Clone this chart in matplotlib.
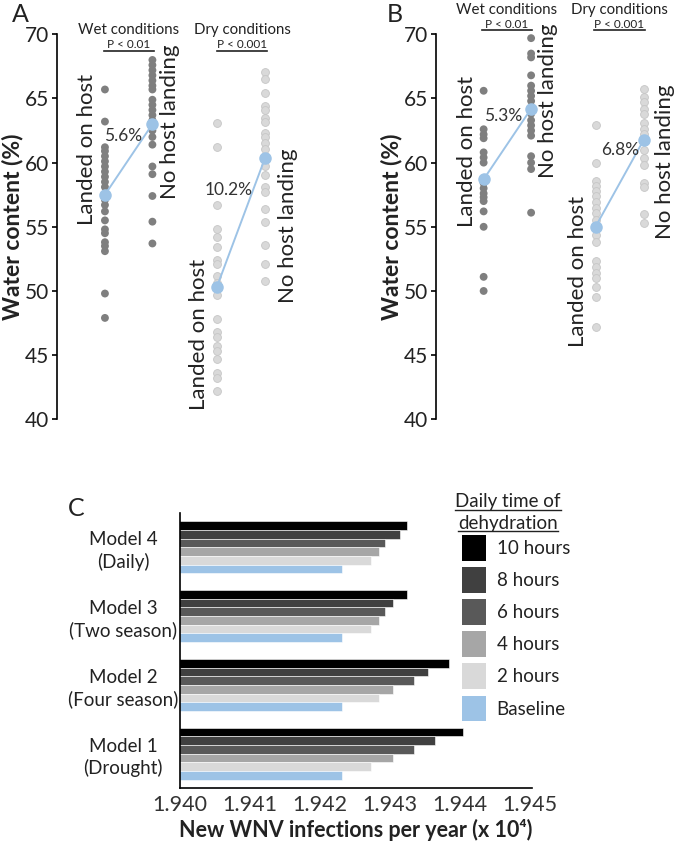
import matplotlib
matplotlib.use('Agg')
import matplotlib.pyplot as plt
from matplotlib.patches import Patch
from matplotlib.lines import Line2D

plt.rcParams['font.family'] = ['Lato', 'DejaVu Sans']

# ---- data: water content (%) panels A and B ----
conditions = ['Wet conditions', 'Dry conditions']
groups = ['Landed on host', 'No host landing']

wet_landed_A = [65.7, 63.2, 61.2, 60.9, 60.5, 60.1, 59.7, 59.3, 58.9, 58.5, 58.1, 57.1,
                56.7, 56.2, 55.5, 54.8, 54.5, 53.8, 53.5, 53.1, 49.8, 47.9]
wet_nohost_A = [68.0, 67.6, 67.2, 66.8, 66.4, 66.0, 65.7, 64.9, 64.5, 64.1, 63.7, 63.3,
                62.5, 62.0, 61.4, 59.7, 59.1, 57.4, 55.4, 53.7]
dry_landed_A = [63.1, 61.2, 56.7, 54.8, 54.2, 53.4, 52.4, 52.1, 51.2, 50.6, 49.7, 47.8,
                46.8, 46.4, 45.7, 45.3, 44.7, 43.6, 43.2, 42.2]
dry_nohost_A = [67.1, 66.5, 65.4, 64.4, 64.1, 63.5, 63.2, 62.3, 62.0, 61.5, 61.1, 59.7,
                59.0, 58.1, 57.7, 56.4, 55.4, 53.6, 52.1, 50.8]
means_A = [57.5, 63.0, 50.3, 60.4]
pvals_A = ['P < 0.01', 'P < 0.001']
pct_A = ['5.6%', '10.2%']

wet_landed_B = [65.6, 62.6, 62.2, 61.9, 60.8, 60.4, 60.0, 58.4, 58.0, 57.6, 57.3, 57.0,
                56.2, 55.0, 51.1, 50.0]
wet_nohost_B = [69.7, 68.5, 68.2, 66.8, 66.0, 65.6, 65.2, 64.8, 63.8, 63.3, 62.9, 62.5,
                62.1, 60.5, 60.0, 59.5, 56.1]
dry_landed_B = [62.9, 60.0, 58.6, 58.2, 57.8, 57.4, 56.9, 56.5, 56.1, 55.5, 54.4, 53.8,
                52.3, 51.9, 51.4, 51.0, 50.3, 49.5, 47.2]
dry_nohost_B = [65.7, 65.1, 64.7, 64.2, 63.8, 63.1, 62.6, 62.2, 61.0, 60.4, 59.8, 58.4,
                58.1, 56.0, 55.3]
means_B = [58.7, 64.2, 55.0, 61.8]
pvals_B = ['P < 0.01', 'P < 0.001']
pct_B = ['5.3%', '6.8%']

# ---- data: panel C, new WNV infections per year (x 10^4) ----
models = ['Model 1\n(Drought)', 'Model 2\n(Four season)', 'Model 3\n(Two season)', 'Model 4\n(Daily)']
series = ['10 hours', '8 hours', '6 hours', '4 hours', '2 hours', 'Baseline']
hrs10 = [1.94404, 1.94385, 1.94324, 1.94324]
hrs8 = [1.94364, 1.94354, 1.94304, 1.94314]
hrs6 = [1.94334, 1.94334, 1.94293, 1.94293]
hrs4 = [1.94304, 1.94304, 1.94284, 1.94284]
hrs2 = [1.94273, 1.94284, 1.94273, 1.94273]
baseline = [1.94232, 1.94232, 1.94232, 1.94232]
xticks_C = [1.940, 1.941, 1.942, 1.943, 1.944, 1.945]

W, H = 675, 843
fig = plt.figure(figsize=(W / 100, H / 100), dpi=100)


def fx(px):
    return px / W


def fy(py):
    return 1 - py / H


WET = '#7f7f7f'
DRY = '#d9d9d9'
DRY_EDGE = '#c6c6c6'
BLUE = '#9dc3e6'
TXT = '#222222'
xpos = [1.02, 2.03, 3.40, 4.43]


def strip_panel(left_px, cols, means, pvals, pcts, label_x, label_y, pct_xy,
                title_y, ptxt_y, pline_y, pline_x, letter, letter_px, ylab_x):
    ax = fig.add_axes([fx(left_px), fy(419.3), 235 / W, (419.3 - 34.3) / H])
    ax.set_xlim(0, 5.0)
    ax.set_ylim(40, 70)
    for i, vals in enumerate(cols):
        dry = i >= 2
        ax.scatter([xpos[i]] * len(vals), vals, s=32,
                   color=DRY if dry else WET,
                   edgecolors=DRY_EDGE if dry else 'none', linewidths=0.6,
                   zorder=2, clip_on=False)
    for k in range(2):
        ax.plot([xpos[2 * k], xpos[2 * k + 1]], [means[2 * k], means[2 * k + 1]],
                color=BLUE, lw=1.4, zorder=3, marker='o', ms=8,
                mec=BLUE, mfc=BLUE, clip_on=False)
        ax.text(pct_xy[k][0], pct_xy[k][1], pcts[k], fontsize=12.5, color='#333333',
                ha='center', va='center')
        cx = (pline_x[k][0] + pline_x[k][1]) / 2
        ax.text(cx, title_y, conditions[k], fontsize=10.8, color=TXT,
                ha='center', va='center', clip_on=False)
        ax.text(cx, ptxt_y, pvals[k], fontsize=8.5, color=TXT,
                ha='center', va='center', clip_on=False)
        ax.plot(pline_x[k], [pline_y, pline_y], color=TXT, lw=1.2, clip_on=False)
    for i in range(4):
        ax.text(label_x[i], label_y[i], groups[i % 2], rotation=90, fontsize=16,
                color=TXT, ha='center', va='center', clip_on=False)
    for s in ['top', 'right', 'bottom']:
        ax.spines[s].set_visible(False)
    ax.spines['left'].set_linewidth(1.2)
    ax.set_xticks([])
    ax.set_yticks([40, 45, 50, 55, 60, 65, 70])
    ax.tick_params(axis='y', length=3.5, width=1.2, labelsize=15, pad=2,
                   labelcolor=TXT)
    ax.set_ylabel('Water content (%)', fontsize=16.5, fontweight='bold', color=TXT)
    ax.yaxis.set_label_coords(ylab_x, 0.5)
    fig.text(fx(letter_px[0]), fy(letter_px[1]), letter, fontsize=18, color=TXT,
             ha='center', va='center')
    return ax


strip_panel(57, [wet_landed_A, wet_nohost_A, dry_landed_A, dry_nohost_A], means_A,
            pvals_A, pct_A,
            label_x=[0.64, 2.40, 3.02, 4.91], label_y=[61.0, 63.2, 46.6, 55.1],
            pct_xy=[(1.40, 62.1), (3.66, 57.9)],
            title_y=70.33, ptxt_y=69.24, pline_y=68.7,
            pline_x=[(1.0, 2.06), (3.40, 4.47)], letter='A', letter_px=(20, 14),
            ylab_x=-0.145)

strip_panel(435.7, [wet_landed_B, wet_nohost_B, dry_landed_B, dry_nohost_B], means_B,
            pvals_B, pct_B,
            label_x=[0.67, 2.39, 3.03, 4.88], label_y=[60.9, 64.85, 51.55, 60.1],
            pct_xy=[(1.43, 63.6), (3.92, 61.0)],
            title_y=71.9, ptxt_y=70.78, pline_y=70.34,
            pline_x=[(0.98, 2.05), (3.37, 4.45)], letter='B', letter_px=(395, 15),
            ylab_x=-0.143)

# ---- panel C ----
axc = fig.add_axes([fx(180), fy(788), 352 / W, (788 - 513) / H])
colors_C = ['#000000', '#404040', '#595959', '#a6a6a6', '#d9d9d9', BLUE]
vals_C = [hrs10, hrs8, hrs6, hrs4, hrs2, baseline]
bh = 8.67 / 69
ypos = list(range(len(models)))
for i, (name, vals, c) in enumerate(zip(series, vals_C, colors_C)):
    off = (2.5 - i) * bh
    axc.barh([y + off for y in ypos], vals, height=bh, color=c,
             edgecolor='white', linewidth=0.4, label=name)
axc.set_xlim(1.940, 1.94503)
axc.set_ylim(-0.5, 3.5)
axc.set_yticks(ypos)
axc.set_yticklabels(models, fontsize=13.5, color=TXT, linespacing=1.3)
for t in axc.get_yticklabels():
    t.set_ha('center')
axc.tick_params(axis='y', length=0, pad=41)
axc.set_xticks(xticks_C)
axc.set_xticklabels(['%.3f' % v for v in xticks_C], fontsize=15.5, color='#333333')
axc.tick_params(axis='x', length=0, pad=5)
for s in ['top', 'right']:
    axc.spines[s].set_visible(False)
for s in ['left', 'bottom']:
    axc.spines[s].set_linewidth(1.2)
axc.set_xlabel('New WNV infections per year (x 10\u2074)', fontsize=15.5,
               fontweight='bold', color=TXT, labelpad=3)
fig.text(fx(76), fy(509), 'C', fontsize=18, color=TXT, ha='center', va='center')

handles = [Patch(facecolor=c, edgecolor='none') for c in colors_C]
axc.legend(handles, series, loc='upper left', bbox_to_anchor=(fx(462), fy(535)),
           bbox_transform=fig.transFigure, frameon=False, fontsize=13.5,
           handlelength=1.3, handleheight=1.75, labelspacing=0.33,
           handletextpad=0.55, borderpad=0, borderaxespad=0, labelcolor=TXT)

# underlined legend title
title_lines = [('Daily time of', 502), ('dehydration', 523)]
fig.canvas.draw()
r = fig.canvas.get_renderer()
for txt, ypx in title_lines:
    t = fig.text(fx(508), fy(ypx), txt, fontsize=13.5, color=TXT,
                 ha='center', va='center')
    bb = t.get_window_extent(renderer=r).transformed(fig.transFigure.inverted())
    fig.add_artist(Line2D([bb.x0, bb.x1], [bb.y0 + 0.001, bb.y0 + 0.001],
                          transform=fig.transFigure, color=TXT, lw=1.0))

fig.savefig('out.png', dpi=100)
